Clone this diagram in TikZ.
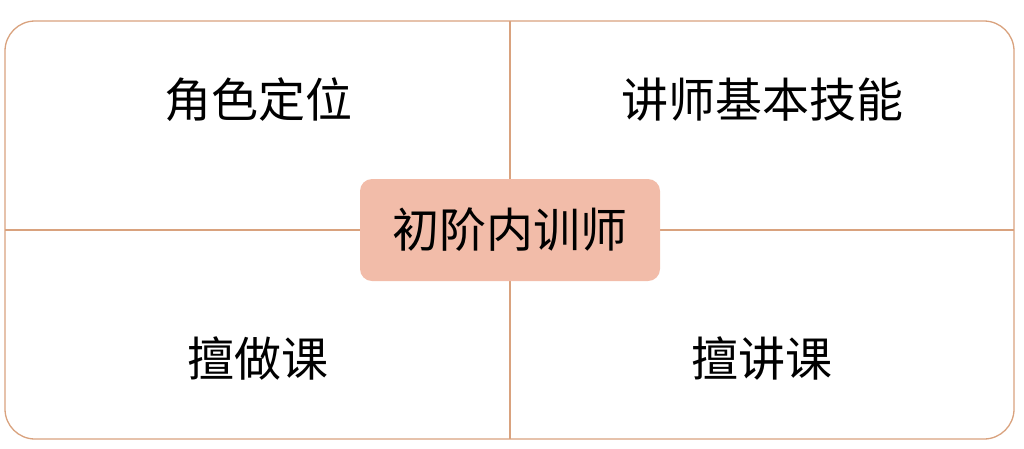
\documentclass[tikz,border=0pt]{standalone}
\usepackage{fontspec}
\newfontfamily\cjk{Noto Sans CJK SC}
\usepackage{tikz}
\definecolor{frameline}{HTML}{D9A27E}
\definecolor{corefill}{HTML}{F2BCA9}
\tikzset{
    quad/.style={font=\cjk\fontsize{47}{51}\selectfont, text=black},
    core/.style={fill=corefill, draw=none, rounded corners=12pt, minimum width=300pt, minimum height=102pt, font=\cjk\fontsize{47}{51}\selectfont, inner sep=0pt}
}

\begin{document}
\begin{tikzpicture}[x=1pt, y=-1pt]
        \useasboundingbox (0, 0) rectangle (1024, 448);

        \draw[frameline, line width=1.3pt, rounded corners=30pt] (5, 21) rectangle (1014, 439);
        \coordinate (top) at (510, 21);
        \coordinate (bottom) at (510, 439);
        \coordinate (left) at (5, 230);
        \coordinate (right) at (1014, 230);
        \draw[frameline, line width=1.1pt] (top) -- (bottom);
        \draw[frameline, line width=1.1pt] (left) -- (right);

        \node[core] (trainer) at (510, 230) {初阶内训师};

        \node[quad] (role) at (258, 100) {角色定位};
        \node[quad] (skills) at (762, 100) {讲师基本技能};
        \node[quad] (design) at (258, 358) {擅做课};
        \node[quad] (teach) at (762, 358) {擅讲课};

    \end{tikzpicture}
\end{document}
